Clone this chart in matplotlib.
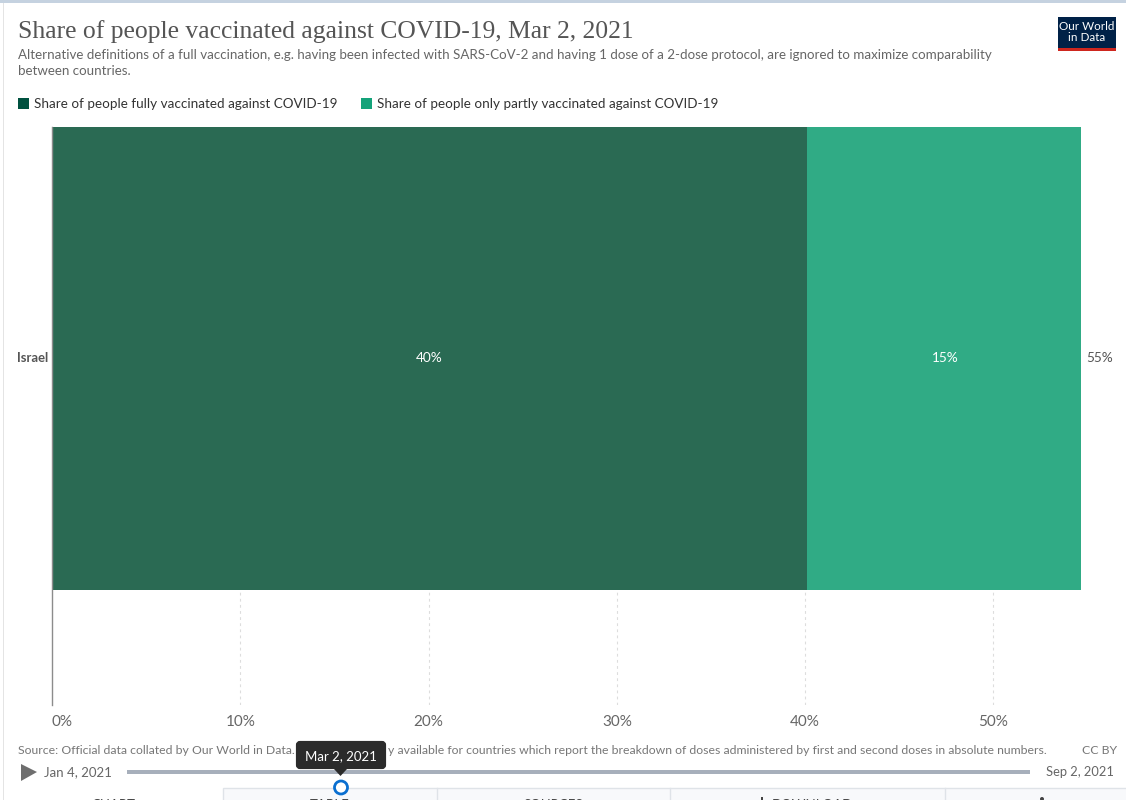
import matplotlib
matplotlib.use("Agg")
import matplotlib.pyplot as plt
from matplotlib.patches import Rectangle, Polygon, FancyBboxPatch, Circle

W, H = 1126, 800
countries = ["Israel"]
fully = [40.1]
partly = [14.6]
total_labels = ["55%"]
fully_labels = ["40%"]
partly_labels = ["15%"]
xticks = [0, 10, 20, 30, 40, 50]
xticklabels = ["0%", "10%", "20%", "30%", "40%", "50%"]
series_names = ["Share of people fully vaccinated against COVID-19",
                "Share of people only partly vaccinated against COVID-19"]
title = "Share of people vaccinated against COVID-19, Mar 2, 2021"
subtitle = ("Alternative definitions of a full vaccination, e.g. having been infected with SARS-CoV-2 and "
            "having 1 dose of a 2-dose protocol, are ignored to maximize comparability\nbetween countries.")
source = "Source: Official data collated by Our World in Data. "
source2 = "y available for countries which report the breakdown of doses administered by first and second doses in absolute numbers."

plt.rcParams["font.family"] = ["Lato", "DejaVu Sans"]
fig = plt.figure(figsize=(W / 100, H / 100), dpi=100, facecolor="white")

# full-figure overlay in pixel coordinates (y downward)
ui = fig.add_axes([0, 0, 1, 1], zorder=3)
ui.set_xlim(0, W); ui.set_ylim(H, 0); ui.axis("off"); ui.patch.set_alpha(0)

# plot axes: x 52px..1081px, y 127px..705px
x0, x1, y0, y1 = 52.0, 1081.0, 127.0, 705.0
ax = fig.add_axes([x0 / W, 1 - y1 / H, (x1 - x0) / W, (y1 - y0) / H], zorder=2)
ax.set_xlim(0, (x1 - x0) / 18.83)
bar_px = 463.0
ax.set_ylim(-0.5 - (y1 - 590) / bar_px, 0.5)
ax.patch.set_alpha(0)
for s in ["top", "right", "bottom"]:
    ax.spines[s].set_visible(False)
ax.spines["left"].set_color("#8c8c8c")
ax.spines["left"].set_linewidth(1)
ax.set_yticks([])
ax.set_xticks(xticks)
ax.set_xticklabels(xticklabels, fontsize=11, color="#666666")
ax.tick_params(axis="x", length=0, pad=7)
for t in ax.get_xticklabels()[:1]:
    t.set_ha("left")
for v in xticks[1:]:
    ax.axvline(v, color="#dddddd", lw=0.8, ls=(0, (2.5, 3)), zorder=1)

DARK, LIGHT = "#2a6a53", "#30ab85"
for i, c in enumerate(countries):
    ax.barh(i, fully[i], height=1, color=DARK, zorder=2)
    ax.barh(i, partly[i], height=1, left=fully[i], color=LIGHT, zorder=2)
    ax.text(fully[i] / 2, i, fully_labels[i], color="white", ha="center", va="center", fontsize=9.8, zorder=3)
    ax.text(fully[i] + partly[i] / 2 + 0.05, i, partly_labels[i], color="white", ha="center", va="center", fontsize=9.8, zorder=3)
    ax.text(-0.2, i, c, color="#555555", ha="right", va="center", fontsize=9.4, fontweight="bold")
    ax.text(fully[i] + partly[i] + 0.25, i, total_labels[i], color="#555555", ha="left", va="center", fontsize=9.8, clip_on=False)

# page chrome
ui.add_patch(Rectangle((0, 0), W, 3, color="#c5d2e0", lw=0))
ui.add_patch(Rectangle((3, 3), 1.2, H, color="#e4e4e4", lw=0))

# header
ui.text(18, 32, title, family="Liberation Serif", fontsize=18.45, color="#555555", va="center", ha="left")
ui.text(18, 63, subtitle, fontsize=9.68, color="#666666", va="center", ha="left", linespacing=1.36)
ui.add_patch(Rectangle((18, 98), 11, 11, color="#00513f", lw=0))
ui.text(34.5, 104.5, series_names[0], fontsize=9.75, color="#333333", va="center", ha="left")
ui.add_patch(Rectangle((361, 98), 11, 11, color="#14a37a", lw=0))
ui.text(377, 104.5, series_names[1], fontsize=9.75, color="#333333", va="center", ha="left")

# logo
ui.add_patch(Rectangle((1058, 17), 58, 34, color="#002147", lw=0))
ui.add_patch(Rectangle((1058, 47.5), 58, 3.5, color="#ce261e", lw=0))
ui.text(1087, 32, "Our World\nin Data", color="white", fontsize=8.4, ha="center", va="center", linespacing=1.05)

# footer
ui.text(18, 750, source, fontsize=8.86, color="#777777", va="center", ha="left")
ui.text(388, 750, source2, fontsize=8.86, color="#777777", va="center", ha="left")
ui.text(1082, 750, "CC BY", fontsize=8.86, color="#777777", va="center", ha="left")

# timeline
ui.add_patch(Polygon([(21, 764), (37, 772), (21, 781)], color="#6e6e6e", lw=0))
ui.text(44, 772, "Jan 4, 2021", fontsize=9.5, color="#666666", va="center", ha="left")
ui.text(1046, 772, "Sep 2, 2021", fontsize=9.3, color="#666666", va="center", ha="left")
ui.add_patch(Rectangle((127, 770), 903, 4, color="#a7afbb", lw=0))

# tabs row
ui.add_patch(Rectangle((222.5, 788), W - 222, 14, facecolor="#f8f9fb", edgecolor="#dfe3e8", lw=1, clip_on=True))
for xp in [437, 670, 945]:
    ui.plot([xp, xp], [788, H], color="#dfe3e8", lw=1)
for xp, lab in [(113, "CHART"), (330, "TABLE"), (553, "SOURCES"), (812, "DOWNLOAD")]:
    ui.text(xp, 805, lab, fontsize=9.5, color="#444444", ha="center", va="center", clip_on=True)
ui.add_patch(Rectangle((761, 797), 2, 3, color="#444444", lw=0))
ui.add_patch(Circle((1042, 799), 2, color="#444444", lw=0))

# tooltip and handle
ui.add_patch(FancyBboxPatch((298, 743), 86, 24, boxstyle="round,pad=0,rounding_size=2", mutation_aspect=1,
                            facecolor="#2b2b2b", edgecolor="#2b2b2b", lw=3, zorder=5))
ui.add_patch(Polygon([(334, 769), (347, 769), (340.5, 776)], color="#2b2b2b", lw=0, zorder=5))
ui.text(341, 756, "Mar 2, 2021", color="white", fontsize=9.5, ha="center", va="center", zorder=6)
ui.add_patch(Circle((341, 787.5), 6.5, facecolor="white", edgecolor="#0a6fd0", lw=2, zorder=6))

fig.savefig("out.png", dpi=100)
